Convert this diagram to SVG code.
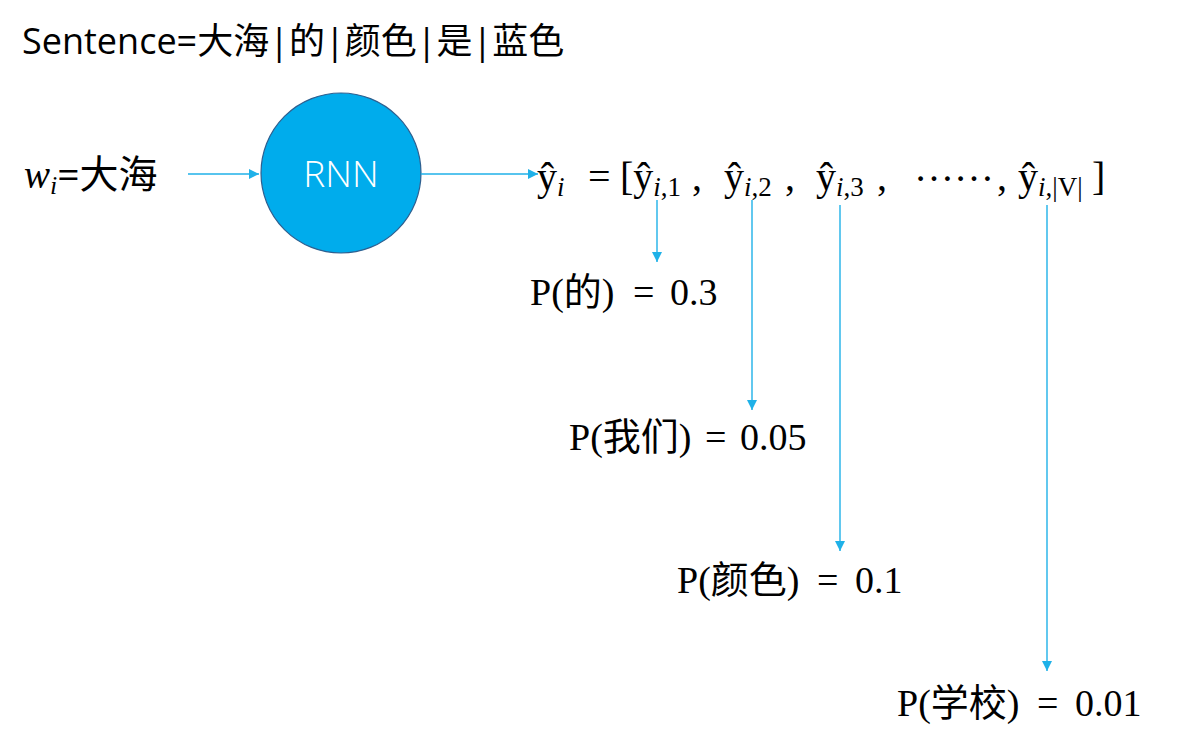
<svg xmlns="http://www.w3.org/2000/svg" width="1185" height="737" viewBox="0 0 1185 737">
<defs>
<style>
.sans{font-family:"Open Sans","Noto Sans CJK SC",sans-serif;fill:#000}
.serif{font-family:"Liberation Serif","Noto Sans CJK SC",serif;fill:#000}
.it{font-style:italic}
.lbl{font-size:38px}
.conn{stroke:#1fb1e8;stroke-width:1.4;fill:none;marker-end:url(#ah)}
</style>
<marker id="ah" viewBox="0 0 10 10" refX="10" refY="5" markerWidth="10" markerHeight="10" markerUnits="userSpaceOnUse" orient="auto">
<path d="M0,0 L10,5 L0,10 z" fill="#1fb1e8"/>
</marker>
</defs>
<rect width="1185" height="737" fill="#fff"/>
<g id="title"><text class="sans" x="22" y="54" font-size="36">Sentence=大海|的|颜色|是|蓝色</text></g>
<g id="input"><text x="24" y="188" font-size="39"><tspan class="serif it">w</tspan><tspan class="serif it" font-size="26" dy="6">i</tspan><tspan class="sans" dy="-6">=大海</tspan></text></g>
<g id="rnn">
<circle cx="341" cy="173" r="80" fill="#00acec" stroke="#2e5f8f" stroke-width="1.2"/>
<text x="341" y="187" font-size="37" text-anchor="middle" font-family="Open Sans,Noto Sans,sans-serif" fill="#fff" font-weight="300">RNN</text>
</g>
<g id="output">
<text class="serif" font-size="40" y="190">
<tspan x="537">ŷ</tspan><tspan class="it" font-size="27" dy="6">i</tspan><tspan dy="-6" x="588">=</tspan><tspan x="620">[ŷ</tspan><tspan class="it" font-size="27" dy="6">i</tspan><tspan font-size="27">,1</tspan><tspan dy="-6" x="692">,</tspan>
<tspan x="724">ŷ</tspan><tspan class="it" font-size="27" dy="6">i</tspan><tspan font-size="27">,2</tspan><tspan dy="-6" x="785">,</tspan>
<tspan x="816">ŷ</tspan><tspan class="it" font-size="27" dy="6">i</tspan><tspan font-size="27">,3</tspan><tspan dy="-6" x="877">,</tspan>
<tspan x="914" dy="-9">……</tspan><tspan x="997" dy="9">,</tspan>
<tspan x="1018">ŷ</tspan><tspan class="it" font-size="27" dy="6">i</tspan><tspan font-size="27">,|V|</tspan><tspan dy="-6" x="1092">]</tspan>
</text>
</g>
<g id="p1"><text class="serif lbl" y="305"><tspan x="530">P(的)</tspan><tspan x="633">=</tspan><tspan x="670">0.3</tspan></text></g>
<g id="p2"><text class="serif lbl" y="450"><tspan x="569">P(我们)</tspan><tspan x="705">=</tspan><tspan x="740">0.05</tspan></text></g>
<g id="p3"><text class="serif lbl" y="593"><tspan x="677">P(颜色)</tspan><tspan x="817">=</tspan><tspan x="855">0.1</tspan></text></g>
<g id="p4"><text class="serif lbl" y="716"><tspan x="897">P(学校)</tspan><tspan x="1037">=</tspan><tspan x="1075">0.01</tspan></text></g>
<g id="connectors">
<line class="conn" x1="188" y1="174" x2="259" y2="174"/>
<line class="conn" x1="421" y1="174" x2="538" y2="174"/>
<line class="conn" x1="657" y1="200" x2="657" y2="262"/>
<line class="conn" x1="752" y1="200" x2="752" y2="410"/>
<line class="conn" x1="840" y1="205" x2="840" y2="551"/>
<line class="conn" x1="1047" y1="205" x2="1047" y2="671"/>
</g>
</svg>
